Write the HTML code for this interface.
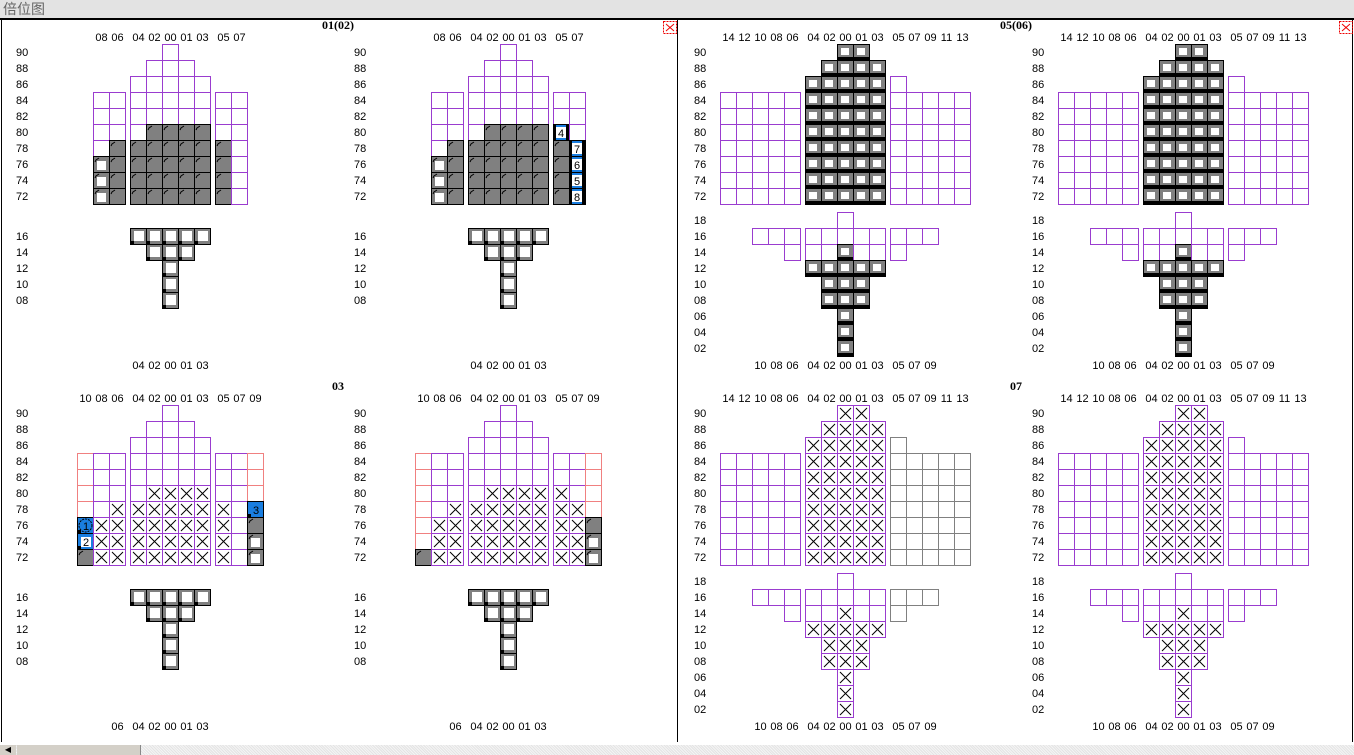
<!DOCTYPE html>
<html><head><meta charset="utf-8">
<style>
html,body{margin:0;padding:0;background:#fff;width:1354px;height:755px;overflow:hidden;}
#titlebar{position:absolute;left:0;top:0;width:1354px;height:19px;background:#e3e3e3;border-bottom:1px solid #000;font:14px "Liberation Sans","Noto Sans CJK SC",sans-serif;color:#666;line-height:19px;padding-left:3px;box-sizing:border-box;}
#plan{position:absolute;left:0;top:0;}
#scroll{position:absolute;left:0;top:745px;width:1354px;height:10px;background:repeating-linear-gradient(45deg,#e4e4e4 0 1px,#f4f4f4 1px 2px);}
#sbtn{position:absolute;left:0;top:0;width:16px;height:10px;background:#d4d0c8;font-size:8px;line-height:10px;text-align:center;}
#thumb{position:absolute;left:17px;top:0;width:123px;height:10px;background:#d4d0c8;border-right:1px solid #888;}
</style></head><body>
<div id="titlebar">倍位图</div>
<svg id="plan" width="1354" height="745" xmlns="http://www.w3.org/2000/svg"
 font-family="Liberation Sans, sans-serif" font-size="11">
 <line x1="0" y1="19.5" x2="1354" y2="19.5" stroke="#000"/>
 <line x1="1.5" y1="20" x2="1.5" y2="742" stroke="#000"/>
 <line x1="677.5" y1="20" x2="677.5" y2="742" stroke="#000"/>
 <line x1="1352.5" y1="20" x2="1352.5" y2="742" stroke="#000"/>
 <g><rect x="663.5" y="21.5" width="13" height="12" fill="none" stroke="#e00" stroke-dasharray="2,1"/><path d="M666 24l8 7M674 24l-8 7" stroke="#e00"/></g>
 <g><rect x="1339.5" y="21.5" width="13" height="12" fill="none" stroke="#e00" stroke-dasharray="2,1"/><path d="M1342 24l8 7M1350 24l-8 7" stroke="#e00"/></g>
 <g id="root"></g>
</svg>
<div id="scroll"><div id="sbtn">◀</div><div id="thumb"></div></div>
<script>
// ---- data ----
const deckRows = ['90','88','86','84','82','80','78','76','74','72'];
const holdRowsSmall = ['16','14','12','10','08'];
const holdRowsBig = ['18','16','14','12','10','08','06','04','02'];
const colsA = ['08','06','04','02','00','01','03','05','07'];
const colsC = ['14','12','10','08','06','04','02','00','01','03','05','07','09','11','13'];
const colsE = ['10','08','06','04','02','00','01','03','05','07','09'];
const holdColsSmall = ['04','02','00','01','03'];
const holdColsBig = ['10','08','06','04','02','00','01','03','05','07','09'];
const deckA = ['....e....','...eee...','..eeeee..','eeeeeeeee','eeeeeeeee','eeeggggee','eggggggge','wggggggge','wggggggge','wggggggge'];
const deckB = ['....e....','...eee...','..eeeee..','eeeeeeeee','eeeeeeeee','eeegggg4e','eggggggg7','wggggggg6','wggggggg5','wggggggg8'];
const deckC = ['.......bb......','......bbbb.....','.....bbbbbe....','eeeeebbbbbeeeee','eeeeebbbbbeeeee','eeeeebbbbbeeeee','eeeeebbbbbeeeee','eeeeebbbbbeeeee','eeeeebbbbbeeeee','eeeeebbbbbeeeee'];
const deckE = ['.....e.....','....eee....','...eeeee...','peeeeeeeeep','peeeeeeeeep','peeexxxxeep','pexxxxxxxe3','1xxxxxxxxeg','2xxxxxxxxew','gxxxxxxxxew'];
const deckF = ['.....e.....','....eee....','...eeeee...','peeeeeeeeep','peeeeeeeeep','peeexxxxxep','pexxxxxxxxp','pxxxxxxxxxg','pxxxxxxxxxw','gxxxxxxxxxw'];
const deckG = ['.......xx......','......xxxx.....','.....xxxxxq....','eeeeexxxxxqqqqq','eeeeexxxxxqqqqq','eeeeexxxxxqqqqq','eeeeexxxxxqqqqq','eeeeexxxxxqqqqq','eeeeexxxxxqqqqq','eeeeexxxxxqqqqq'];
const deckH = ['.......xx......','......xxxx.....','.....xxxxxe....','eeeeexxxxxeeeee','eeeeexxxxxeeeee','eeeeexxxxxeeeee','eeeeexxxxxeeeee','eeeeexxxxxeeeee','eeeeexxxxxeeeee','eeeeexxxxxeeeee'];
const holdA = ['hhhhh','.hhh.','..h..','..h..','..h..'];
const holdC = ['.....e.....','eeeeeeeeeee','..eeebeee..','...bbbbb...','....bbb....','....bbb....','.....b.....','.....b.....','.....b.....'];
const holdG = ['.....e.....','eeeeeeeeqqq','..eeexeeq..','...xxxxx...','....xxx....','....xxx....','.....x.....','.....x.....','.....x.....'];
const holdH = ['.....e.....','eeeeeeeeeee','..eeexeee..','...xxxxx...','....xxx....','....xxx....','.....x.....','.....x.....','.....x.....'];
const titles = ['01(02)','05(06)','03','07'];
</script>
<script>
const NS='http://www.w3.org/2000/svg';
const root=document.getElementById('root');
const PUR='#9a3ccf', PINK='#f08080', GRY='#808080';
function el(tag,attrs,parent){const e=document.createElementNS(NS,tag);for(const k in attrs)e.setAttribute(k,attrs[k]);(parent||root).appendChild(e);return e;}
function colX(cols,base){
  const xs=[];let x=base;
  for(let i=0;i<cols.length;i++){
    if(i>0 && (cols[i]==='04' || cols[i]==='05')) x+=5;
    xs.push(x); x+=16;
  }
  return xs;
}
function drawCell(g,x,y,t){
  const c=el('g',{},g);
  
  
  const R=(a)=>el('rect',a,c);
  if(t==='e'||t==='p'||t==='q'){
    R({x:x+.5,y:y+.5,width:16,height:16,fill:'#fff',stroke:t==='e'?PUR:t==='p'?PINK:GRY});
  } else if(t==='x'){
    R({x:x+.5,y:y+.5,width:16,height:16,fill:'#fff',stroke:PUR});
    el('path',{d:`M${x+3} ${y+3}L${x+14} ${y+14}M${x+14} ${y+3}L${x+3} ${y+14}`,stroke:'#000','stroke-width':1},c);
  } else if(t==='g'||t==='w'){
    R({x:x+.5,y:y+.5,width:16,height:16,fill:GRY,stroke:'#000'});
    el('path',{d:`M${x+2} ${y+6}L${x+3} ${y+4}L${x+6} ${y+2}`,stroke:'#000',fill:'none'},c);
    if(t==='w')R({x:x+4,y:y+5,width:9,height:9,fill:'#fff'});
  } else if(t==='h'){
    R({x:x+.5,y:y+.5,width:16,height:16,fill:GRY,stroke:'#000'});
    R({x:x+4,y:y+3,width:10,height:10,fill:'#fff'});
    R({x:x+1,y:y+13,width:3,height:3,fill:'#000'});
  } else if(t==='b'){
    R({x:x,y:y,width:17,height:17,fill:'#000'});
    R({x:x+1,y:y+1,width:15,height:12,fill:GRY});
    R({x:x+4,y:y+4,width:8,height:7,fill:'#fff'});
  } else if('45678'.includes(t)){
    R({x:x,y:y,width:17,height:17,fill:'#000'});
    R({x:x+3,y:y+1,width:10,height:15,fill:'#1a7ee0'});
    R({x:x+3,y:y+3,width:10,height:11,fill:'#fff'});
    el('text',{x:x+8,y:y+13,'text-anchor':'middle','font-size':11},c).textContent=t;
  } else if('123'.includes(t)){
    R({x:x+.5,y:y+.5,width:16,height:16,fill:'#1a7ee0',stroke:'#000'});
    if(t==='1')el('circle',{cx:x+8.5,cy:y+8.5,r:6.5,fill:'#1a7ee0',stroke:'#000','stroke-dasharray':'2,1'},c);
    if(t==='2')R({x:x+4,y:y+4,width:10,height:10,fill:'#fff'});
    R({x:x+1,y:y+13,width:3,height:3,fill:'#000'});
    el('text',{x:x+9,y:y+13,'text-anchor':'middle','font-size':11},c).textContent=t;
  }
}
function grid(g,rows,cols,xs,top,strs,rowLabelX){
  rows.forEach((r,i)=>{
    const y=top+16*i;
    const lt=el('text',{x:rowLabelX,y:y+12},g);
    
    
    lt.textContent=r;
    strs[i].split('').forEach((t,j)=>{ if(t!=='.' && j<xs.length) drawCell(g,xs[j],y,t); });
  });
}
function labels(g,cols,xs,y,name){
  cols.forEach((c,j)=>{
    const t=el('text',{x:xs[j]+8.5,y:y,'text-anchor':'middle'},g);
    
    
    t.textContent=c;
  });
}
function panel(name,dx,dy,type,deck,hold){
  const g=el('g',{});
  
  
  if(type==='A'||type==='E'){
    const cols=type==='A'?colsA:colsE;
    const xs=colX(cols,(type==='A'?93:77)+dx);
    labels(g,cols,xs,41+dy,'column-label');
    grid(g,deckRows,cols,xs,44+dy,deck,16+dx);
    const hx=colX(holdColsSmall,130+dx);
    grid(g,holdRowsSmall,holdColsSmall,hx,228+dy,hold,16+dx);
    if(type==='A') labels(g,holdColsSmall,hx,369+dy,'bottom-column-label');
    else labels(g,['06'].concat(holdColsSmall),[109+dx].concat(hx),369+dy,'bottom-column-label');
  } else {
    const xs=colX(colsC,720+dx);
    labels(g,colsC,xs,41+dy,'column-label');
    grid(g,deckRows,colsC,xs,44+dy,deck,694+dx);
    const hx=colX(holdColsBig,752+dx);
    grid(g,holdRowsBig,holdColsBig,hx,212+dy,hold,694+dx);
    labels(g,holdColsBig,hx,369+dy,'bottom-column-label');
  }
}
panel('bay-01-panel',0,0,'A',deckA,holdA);
panel('bay-02-panel',338,0,'A',deckB,holdA);
panel('bay-05-panel',0,0,'C',deckC,holdC);
panel('bay-06-panel',338,0,'C',deckC,holdC);
panel('bay-03-panel-a',0,361,'E',deckE,holdA);
panel('bay-03-panel-b',338,361,'E',deckF,holdA);
panel('bay-07-panel-a',0,361,'C',deckG,holdG);
panel('bay-07-panel-b',338,361,'C',deckH,holdH);
const tpos=[[338,29],[1016,29],[338,390],[1016,390]];
titles.forEach((s,i)=>{
  const t=el('text',{x:tpos[i][0],y:tpos[i][1],'text-anchor':'middle','font-weight':'bold','font-size':12,'font-family':'Liberation Serif, serif'});
  
  
  t.textContent=s;
});
</script>
</body></html>
